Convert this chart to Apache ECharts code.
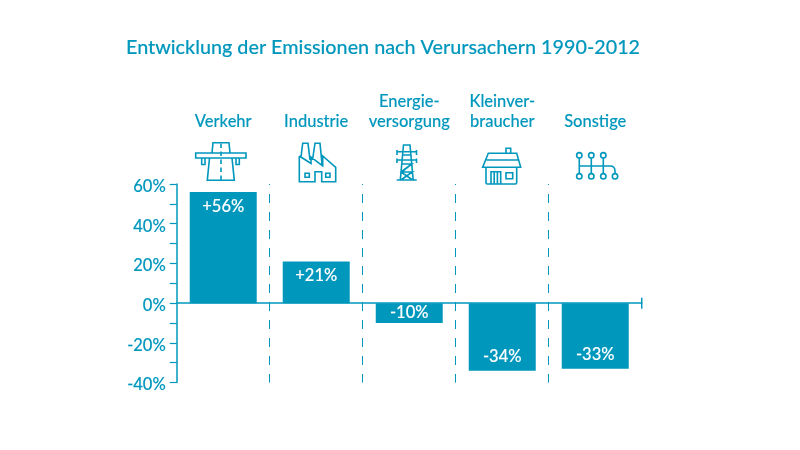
<!DOCTYPE html>
<html><head><meta charset="utf-8">
<script src="https://cdn.jsdelivr.net/npm/echarts@6/dist/echarts.min.js"></script>
<style>html,body{margin:0;background:#fff}#c{width:800px;height:450px}</style></head>
<body><div id="c"></div>
<script>
const titleText = 'Entwicklung der Emissionen nach Verursachern 1990-2012';
const categories = ['Verkehr','Industrie','Energie-\nversorgung','Kleinver-\nbraucher','Sonstige'];
const values = [56,21,-10,-34,-33];
const valueLabels = ['+56%','+21%','-10%','-34%','-33%'];
const color = '#0097bd';
const font = 'Lato';

const iconPaths = [
 'M195.7 153H246V158H195.7Z M212 153L213 142.7H229L230 153 M209.5 158L207.3 180.3H234.3L232 158 M201.7 158V164.5H205V158 M236 158V164.5H239.3V158',
 'M299.3 156V181.7H315V171.7H321.7V181.7H335.7V167.3L322.7 156V166L311 157V163.5L299.3 156 M301 157L302.7 143.3H308L310 160 M312.5 160L315 143.3H320L322 164 M305 173.3H309.3V177.3H305Z M325.7 173.3H330V177.3H325.7Z',
 'M396.7 180H416.7 M400.3 180L403.5 145H410L413.2 180 M397 151.7H416.5 M397 160H416.5 M397 150V155 M416.5 150V155 M397 158.5V163 M416.5 158.5V163 M401.8 164H411.8L401 172L412.6 180 M401.5 172H412.2L401 180 M411.8 164L402 172 M403 155H410.5',
 'M506 153.3V148.3H510.7V153.3 M488.3 153.3H516.7L520.7 167.3H482.7Z M486.5 160H518 M486 167.3V182.5Q486 184 487.5 184H515.2Q516.7 184 516.7 182.5V167.3 M491 184V171.7H500.7V184 M494.2 171.7V184 M497.4 171.7V184 M506 172.7H512.7V178.7H506Z',
 'M579.3 158V173.6 M591.3 158V173.6 M603.3 158V173.6 M579.3 166H610Q615 166 615 171V173.6'
];
const dashedRoad = 'M221 143.5V180.5';
const circleCentres = [[579.3,155.3],[591.3,155.3],[603.3,155.3],[579.3,176.3],[591.3,176.3],[603.3,176.3],[615,176.3]];

iconPaths.forEach((p,i)=>echarts.graphic.registerShape('icon'+i, echarts.graphic.extendPath(p)));
echarts.graphic.registerShape('road', echarts.graphic.extendPath(dashedRoad));

const heavy = {textBorderColor:color,textBorderWidth:0.12};
const chart = echarts.init(document.getElementById('c'), null, {renderer:'canvas'});
chart.setOption({
  animation:false,
  textStyle:{fontFamily:font},
  title:{text:titleText,left:126,top:38,padding:0,textStyle:{color,fontFamily:font,fontSize:19.75,fontWeight:500,...heavy}},
  grid:{left:176.74,top:184,width:465,height:198.6},
  xAxis:[{
    type:'category',data:categories,position:'bottom',
    axisLine:{onZero:true,lineStyle:{color,width:1.5},symbol:['none','rect'],symbolSize:[11,1.5]},
    axisTick:{show:false},axisLabel:{show:false},
    splitLine:{show:true,showMinLine:false,showMaxLine:false,lineStyle:{color,width:1,type:[9,9],dashOffset:8}}
  },{
    type:'category',data:categories,position:'top',
    axisLine:{show:false},axisTick:{show:false},
    axisLabel:{color,fontFamily:font,fontSize:16.5,fontWeight:500,lineHeight:20.5,margin:52,interval:0,verticalAlign:'bottom',align:'center',...heavy},
    splitLine:{show:false}
  }],
  yAxis:{
    type:'value',min:-40,max:60,interval:20,
    axisLine:{show:true,onZero:false,lineStyle:{color,width:1.5}},
    axisTick:{show:true,length:7,lineStyle:{color,width:1.2}},
    minorTick:{show:true,splitNumber:2,length:7,lineStyle:{color,width:1.2}},
    axisLabel:{color,fontFamily:font,fontSize:16.5,fontWeight:500,margin:11,verticalAlign:'top',lineHeight:5,formatter:'{value}%',...heavy},
    splitLine:{show:false},minorSplitLine:{show:false}
  },
  series:[{
    type:'bar',barWidth:67,
    data:values.map((v,i)=>({value:v,label:{
      show:true,formatter:valueLabels[i],
      position:v>=0?'insideTop':(v>-20?'inside':'insideBottom'),
      color:'#fff',distance:6,fontFamily:font,fontSize:16.5,fontWeight:500,
      textBorderColor:'#fff',textBorderWidth:0.12
    }})),
    itemStyle:{color},z:3
  }],
  graphic:{elements:[
    ...iconPaths.map((p,i)=>({type:'icon'+i,silent:true,style:{fill:null,stroke:color,lineWidth:1.6}})),
    {type:'road',silent:true,style:{fill:null,stroke:color,lineWidth:1.6,lineDash:[4.5,3.5]}},
    ...circleCentres.map(c=>({type:'circle',shape:{cx:c[0],cy:c[1],r:2.7},style:{fill:'#fff',stroke:color,lineWidth:1.6},silent:true}))
  ]}
});
</script></body></html>
